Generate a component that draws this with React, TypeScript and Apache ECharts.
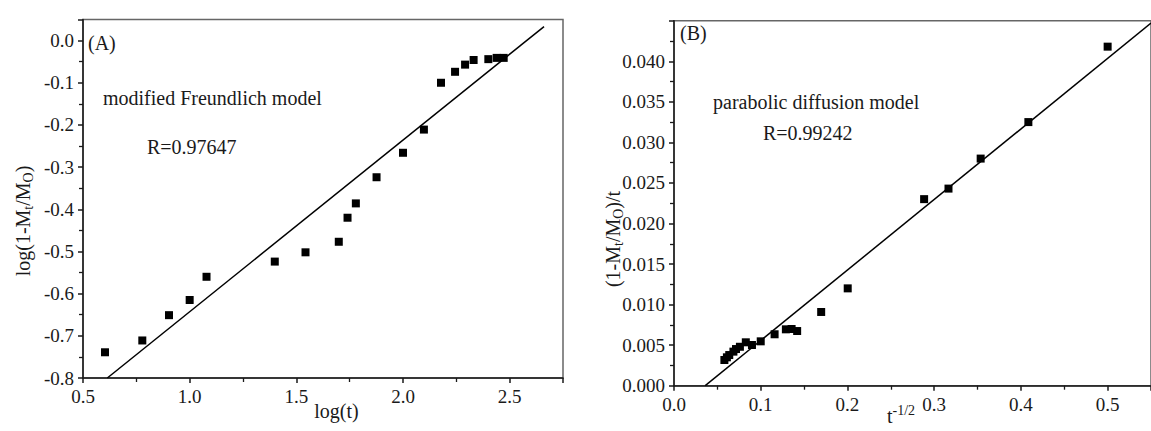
import React, { useEffect, useRef } from "react";
import * as echarts from "echarts";

// Panel A: modified Freundlich model
const leftX = [0.603, 0.778, 0.903, 1.0, 1.079, 1.399, 1.543, 1.699, 1.74, 1.779, 1.876, 2.0, 2.098, 2.178, 2.244, 2.291, 2.331, 2.4, 2.439, 2.472];
const leftY = [-0.739, -0.711, -0.651, -0.615, -0.56, -0.524, -0.502, -0.477, -0.42, -0.386, -0.324, -0.266, -0.211, -0.1, -0.074, -0.057, -0.046, -0.044, -0.041, -0.041];
const leftFitX = [0.614, 2.661];
const leftFitY = [-0.8, 0.0332];

// Panel B: parabolic diffusion model
const rightX = [0.0581, 0.061, 0.0637, 0.0685, 0.0715, 0.076, 0.0828, 0.0899, 0.1, 0.116, 0.129, 0.1356, 0.142, 0.1697, 0.2003, 0.2884, 0.3165, 0.3536, 0.4086, 0.5];
const rightY = [0.00317, 0.0035, 0.00378, 0.0042, 0.00452, 0.0048, 0.00535, 0.00502, 0.00547, 0.00634, 0.00695, 0.00699, 0.00674, 0.00909, 0.012, 0.023, 0.0243, 0.028, 0.0325, 0.0418];
const rightFitX = [0.036, 0.55];
const rightFitY = [0, 0.0447];

const FONT = "Liberation Serif";
const TXT = "#1a1a1a";
const FS = 20;

const pairs = (xs: number[], ys: number[]) => xs.map((x, i) => [x, ys[i]]);

const fmt = (interval: number, digits: number) => (v: number) => {
  const r = v / interval;
  if (Math.abs(r - Math.round(r)) > 1e-6) return "";
  return v.toFixed(digits);
};

const axisCommon = (interval: number, min: number, max: number, digits: number) => ({
  type: "value" as const,
  min,
  max,
  interval,
  splitLine: { show: false },
  axisLine: { show: true, onZero: false, lineStyle: { color: "#1a1a1a", width: 1.5 } },
  axisTick: { show: true, inside: false, length: 5, lineStyle: { color: "#1a1a1a", width: 1.5 } },
  minorTick: { show: true, splitNumber: 2, length: 4, lineStyle: { color: "#1a1a1a", width: 1.3 } },
  axisLabel: {
    show: true,
    fontFamily: FONT,
    fontSize: 19,
    color: TXT,
    margin: 9,
    showMaxLabel: false,
    formatter: fmt(interval, digits),
  },
});

const rich = {
  a: { fontFamily: FONT, fontSize: FS, color: TXT, lineHeight: 24, verticalAlign: "middle" },
  s: { fontFamily: FONT, fontSize: 14, color: TXT, lineHeight: 14, padding: [11, 0, 0, 0], verticalAlign: "middle" },
  p: { fontFamily: FONT, fontSize: 14, color: TXT, lineHeight: 14, padding: [0, 0, 11, 0], verticalAlign: "middle" },
};

const txt = (text: string, x: number, y: number, align = "left", rotation = 0) => ({
  type: "text",
  x,
  y,
  rotation,
  style: {
    text,
    fontFamily: FONT,
    fontSize: FS,
    fill: TXT,
    align,
    verticalAlign: "middle",
    textAlign: align,
    textVerticalAlign: "middle",
    rich,
  },
});

export default function App() {
  const ref = useRef<HTMLDivElement>(null);
  useEffect(() => {
    document.body.style.margin = "0";
    const chart = echarts.init(ref.current!, null, { renderer: "svg" });
    chart.setOption({
      animation: false,
      backgroundColor: "#fff",
      grid: [
        { left: 83, top: 19.5, width: 480, height: 358.5, show: true, borderColor: "#666", borderWidth: 1.5, backgroundColor: "transparent" },
        { left: 674, top: 20.7, width: 489.5, height: 365, show: true, borderColor: "#666", borderWidth: 1.5, backgroundColor: "transparent" },
      ],
      xAxis: [
        { ...axisCommon(0.5, 0.5, 2.75, 1), gridIndex: 0 },
        { ...axisCommon(0.1, 0, 0.55, 1), gridIndex: 1 },
      ],
      yAxis: [
        { ...axisCommon(0.1, -0.8, 0.05, 1), gridIndex: 0 },
        { ...axisCommon(0.005, 0, 0.045, 3), gridIndex: 1 },
      ],
      series: [
        {
          type: "scatter",
          xAxisIndex: 0,
          yAxisIndex: 0,
          symbol: "rect",
          symbolSize: 8,
          itemStyle: { color: "#000", opacity: 1 },
          data: pairs(leftX, leftY),
        },
        {
          type: "line",
          xAxisIndex: 0,
          yAxisIndex: 0,
          symbol: "none",
          lineStyle: { color: "#000", width: 1.5 },
          data: pairs(leftFitX, leftFitY),
        },
        {
          type: "scatter",
          xAxisIndex: 1,
          yAxisIndex: 1,
          symbol: "rect",
          symbolSize: 8,
          itemStyle: { color: "#000", opacity: 1 },
          data: pairs(rightX, rightY),
        },
        {
          type: "line",
          xAxisIndex: 1,
          yAxisIndex: 1,
          symbol: "none",
          lineStyle: { color: "#000", width: 1.5 },
          data: pairs(rightFitX, rightFitY),
        },
      ],
      graphic: [
        txt("(A)", 88, 43),
        txt("modified Freundlich model", 103, 98),
        txt("R=0.97647", 147, 147),
        txt("(B)", 680, 33),
        txt("parabolic diffusion model", 713, 102),
        txt("R=0.99242", 763, 133),
        txt("log(t)", 336.5, 411, "center"),
        txt("{a|t}{p|-1/2}", 901, 416, "center"),
        txt("{a|log(1-M}{s|t}{a|/M}{s|O}{a|)}", 23, 221, "center", Math.PI / 2),
        txt("{a|(1-M}{s|t}{a|/M}{s|O}{a|)/t}", 613, 239, "center", Math.PI / 2),
      ],
    });
    return () => chart.dispose();
  }, []);
  return <div ref={ref} style={{ width: 1151, height: 431 }} />;
}
